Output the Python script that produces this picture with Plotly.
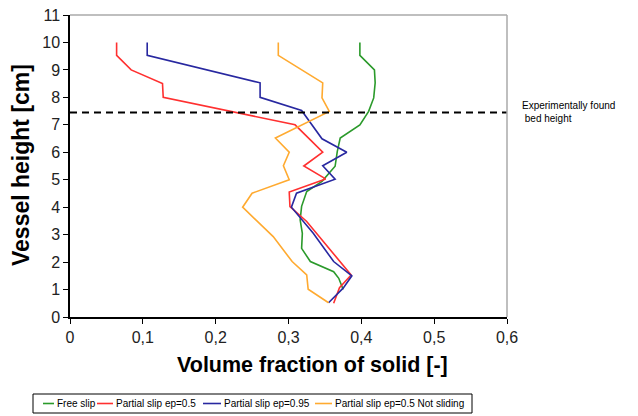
import plotly.graph_objects as go

# Solid volume fraction profiles along the vessel height
free_slip_x = [0.398, 0.398, 0.418, 0.419, 0.417, 0.410, 0.398, 0.371, 0.367, 0.364,
               0.346, 0.325, 0.318, 0.316, 0.319, 0.318, 0.330, 0.362, 0.369, 0.375]
free_slip_y = [10.0, 9.53, 9.0, 8.53, 7.98, 7.49, 7.0, 6.52, 6.03, 5.49,
               4.94, 4.57, 4.03, 3.54, 3.05, 2.5, 2.02, 1.65, 1.41, 1.0]

partial_05_x = [0.064, 0.064, 0.084, 0.127, 0.128, 0.309, 0.330, 0.347, 0.321, 0.351,
                0.301, 0.302, 0.325, 0.386, 0.370, 0.362]
partial_05_y = [10.0, 9.53, 9.0, 8.5, 8.0, 7.0, 6.45, 6.0, 5.5, 5.03,
                4.55, 4.02, 3.48, 1.53, 1.07, 0.5]

partial_095_x = [0.106, 0.106, 0.261, 0.261, 0.318, 0.346, 0.380, 0.347, 0.364, 0.311,
                 0.304, 0.334, 0.362, 0.387, 0.375, 0.355]
partial_095_y = [10.0, 9.53, 8.53, 8.0, 7.52, 6.49, 6.0, 5.51, 5.02, 4.51,
                 4.0, 3.05, 2.02, 1.5, 1.05, 0.52]

not_sliding_x = [0.286, 0.286, 0.347, 0.346, 0.356, 0.282, 0.301, 0.293, 0.301, 0.250,
                 0.237, 0.279, 0.305, 0.325, 0.327, 0.355]
not_sliding_y = [10.0, 9.53, 8.53, 7.98, 7.49, 6.52, 6.0, 5.51, 5.0, 4.51,
                 4.0, 2.93, 2.02, 1.53, 1.01, 0.52]

bed_height = 7.45

x_tick_vals = [0, 0.1, 0.2, 0.3, 0.4, 0.5, 0.6]
x_tick_text = ["0", "0,1", "0,2", "0,3", "0,4", "0,5", "0,6"]
y_tick_vals = list(range(0, 12))

series_names = ["Free slip", "Partial slip ep=0.5", "Partial slip ep=0.95",
                "Partial slip ep=0.5 Not sliding"]
series_x = [free_slip_x, partial_05_x, partial_095_x, not_sliding_x]
series_y = [free_slip_y, partial_05_y, partial_095_y, not_sliding_y]
series_colors = ["#2b9a2b", "#ff3030", "#2828a0", "#ffaa30"]

FONT = "Arial, Liberation Sans, sans-serif"

# Plot-area geometry in pixels (used to place titles and the legend row)
W, H = 638, 416
ML, MR, MT, MB = 70, 131, 15, 99
PW, PH = W - ML - MR, H - MT - MB


def px_x(p):
    return (p - ML) / PW


def px_y(p):
    return (H - MB - p) / PH


fig = go.Figure()
for name, xs, ys, color in zip(series_names, series_x, series_y, series_colors):
    fig.add_trace(go.Scatter(x=xs, y=ys, mode="lines", name=name, showlegend=False,
                             line=dict(color=color, width=1.6)))

# Dashed reference line for the measured bed height
fig.add_shape(type="line", xref="paper", yref="y", x0=0, x1=1,
              y0=bed_height, y1=bed_height,
              line=dict(color="black", width=2, dash="7px,5px"))

# Grey frame on top and right
fig.add_shape(type="line", xref="paper", yref="paper", x0=0, x1=1, y0=1, y1=1,
              line=dict(color="#aaaaaa", width=1.5))
fig.add_shape(type="line", xref="paper", yref="paper", x0=1, x1=1, y0=0, y1=1,
              line=dict(color="#aaaaaa", width=1.5))

fig.add_annotation(xref="paper", yref="y", x=1.03, y=bed_height,
                   text="Experimentally found<br> bed height", showarrow=False,
                   xanchor="left", yanchor="middle", align="left",
                   font=dict(family=FONT, size=10, color="black"))

# Axis titles
fig.add_annotation(xref="paper", yref="paper", x=px_x(312), y=px_y(365),
                   text="<b>Volume fraction of solid [-]</b>", showarrow=False,
                   xanchor="center", yanchor="middle",
                   font=dict(family=FONT, size=21.5, color="black"))
fig.add_annotation(xref="paper", yref="paper", x=px_x(21), y=px_y(165),
                   text="<b>Vessel height [cm]</b>", showarrow=False, textangle=-90,
                   xanchor="center", yanchor="middle",
                   font=dict(family=FONT, size=23, color="black"))

# Compact single-row legend with short line keys
legend_box = (33, 394, 472, 413)
legend_mid = (legend_box[1] + legend_box[3]) / 2
key_starts = [43, 97, 203, 315]
key_len = [11, 16, 18, 17]
fig.add_shape(type="rect", xref="paper", yref="paper",
              x0=px_x(legend_box[0]), x1=px_x(legend_box[2]),
              y0=px_y(legend_box[1]), y1=px_y(legend_box[3]),
              line=dict(color="black", width=1), fillcolor="white", layer="above")
for name, color, k0, kl in zip(series_names, series_colors, key_starts, key_len):
    fig.add_shape(type="line", xref="paper", yref="paper",
                  x0=px_x(k0), x1=px_x(k0 + kl),
                  y0=px_y(legend_mid), y1=px_y(legend_mid),
                  line=dict(color=color, width=1.6))
    fig.add_annotation(xref="paper", yref="paper", x=px_x(k0 + kl + 1),
                       y=px_y(legend_mid), text=name, showarrow=False,
                       xanchor="left", yanchor="middle",
                       font=dict(family=FONT, size=10, color="black"))

fig.update_layout(
    width=W, height=H,
    margin=dict(l=ML, r=MR, t=MT, b=MB, autoexpand=False),
    paper_bgcolor="white", plot_bgcolor="white",
    font=dict(family=FONT, color="black"),
    xaxis=dict(range=[0, 0.6], tickvals=x_tick_vals, ticktext=x_tick_text,
               showgrid=False, zeroline=False, showline=True, linecolor="black",
               linewidth=1.5, ticks="outside", ticklen=5, tickcolor="black",
               tickfont=dict(size=16, color="#222222")),
    yaxis=dict(range=[0, 11], tickvals=y_tick_vals,
               showgrid=False, zeroline=False, showline=True, linecolor="black",
               linewidth=1.5, ticks="outside", ticklen=5, tickcolor="black",
               tickfont=dict(size=16, color="#222222")),
    showlegend=False,
)

fig.write_html("out.html")
